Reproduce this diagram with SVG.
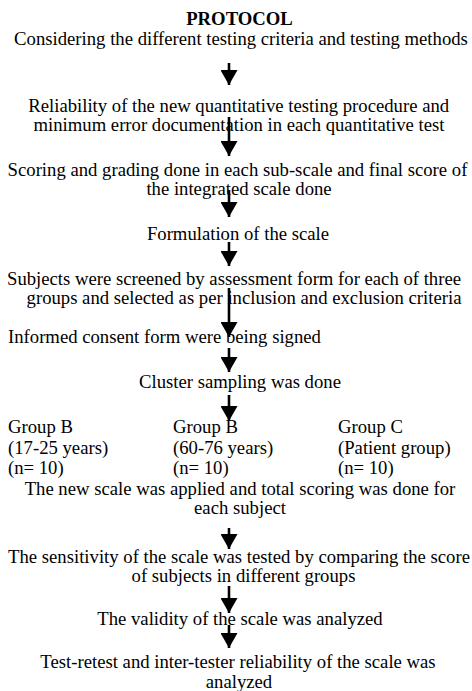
<svg xmlns="http://www.w3.org/2000/svg" width="472" height="691" viewBox="0 0 472 691">
<defs>
<style>
text{font-family:"Liberation Serif","Times New Roman",serif;font-size:18.7px;fill:#000}
.c{text-anchor:middle}
.b{font-weight:bold}
.arr{stroke:#000;stroke-width:2.6;fill:none;marker-end:url(#ah)}
</style>
<marker id="ah" viewBox="0 0 15 17" refX="15" refY="8.5" markerWidth="15" markerHeight="17" markerUnits="userSpaceOnUse" orient="auto">
<path d="M0,0 L15,8.5 L0,17 Z" fill="#000"/>
</marker>
</defs>
<rect width="472" height="691" fill="#fff"/>
<g id="connectors">
<line class="arr" x1="229" y1="63" x2="229" y2="85"/>
<line class="arr" x1="229" y1="117" x2="229" y2="156"/>
<line class="arr" x1="229" y1="190" x2="229" y2="217"/>
<line class="arr" x1="229" y1="242" x2="229" y2="266"/>
<line class="arr" x1="229" y1="288" x2="229" y2="337"/>
<line class="arr" x1="229" y1="348" x2="229" y2="372"/>
<line class="arr" x1="229" y1="395" x2="229" y2="421"/>
<line class="arr" x1="229" y1="528" x2="229" y2="549"/>
<line class="arr" x1="229" y1="586" x2="229" y2="613"/>
<line class="arr" x1="229" y1="625" x2="229" y2="648"/>
</g>
<g id="title"><text class="c b" x="239.5" y="25">PROTOCOL</text></g>
<g id="n1"><text class="c" x="241" y="45">Considering the different testing criteria and testing methods</text></g>
<g id="n2"><text class="c" x="238.7" y="112">Reliability of the new quantitative testing procedure and</text><text class="c" x="239" y="131">minimum error documentation in each quantitative test</text></g>
<g id="n3"><text class="c" x="237.5" y="176">Scoring and grading done in each sub-scale and final score of</text><text class="c" x="239" y="195">the integrated scale done</text></g>
<g id="n4"><text class="c" x="238" y="240">Formulation of the scale</text></g>
<g id="n5"><text class="c" x="234" y="284.5">Subjects were screened by assessment form for each of three</text><text class="c" x="244" y="303.5">groups and selected as per inclusion and exclusion criteria</text></g>
<g id="n6"><text x="8" y="343">Informed consent form were being signed</text></g>
<g id="n7"><text class="c" x="240" y="388">Cluster sampling was done</text></g>
<g id="n8a"><text x="8" y="433">Group B</text><text x="8" y="454">(17-25 years)</text><text x="8" y="474">(n= 10)</text></g>
<g id="n8b"><text x="173" y="433">Group B</text><text x="173" y="454">(60-76 years)</text><text x="173" y="474">(n= 10)</text></g>
<g id="n8c"><text x="338" y="433">Group C</text><text x="338" y="454">(Patient group)</text><text x="338" y="474">(n= 10)</text></g>
<g id="n9"><text class="c" x="240" y="495">The new scale was applied and total scoring was done for</text><text class="c" x="240" y="514">each subject</text></g>
<g id="n10"><text class="c" x="239" y="563">The sensitivity of the scale was tested by comparing the score</text><text class="c" x="243.5" y="582">of subjects in different groups</text></g>
<g id="n11"><text class="c" x="240" y="625">The validity of the scale was analyzed</text></g>
<g id="n12"><text class="c" x="238" y="668">Test-retest and inter-tester reliability of the scale was</text><text class="c" x="239" y="687.5">analyzed</text></g>
</svg>
